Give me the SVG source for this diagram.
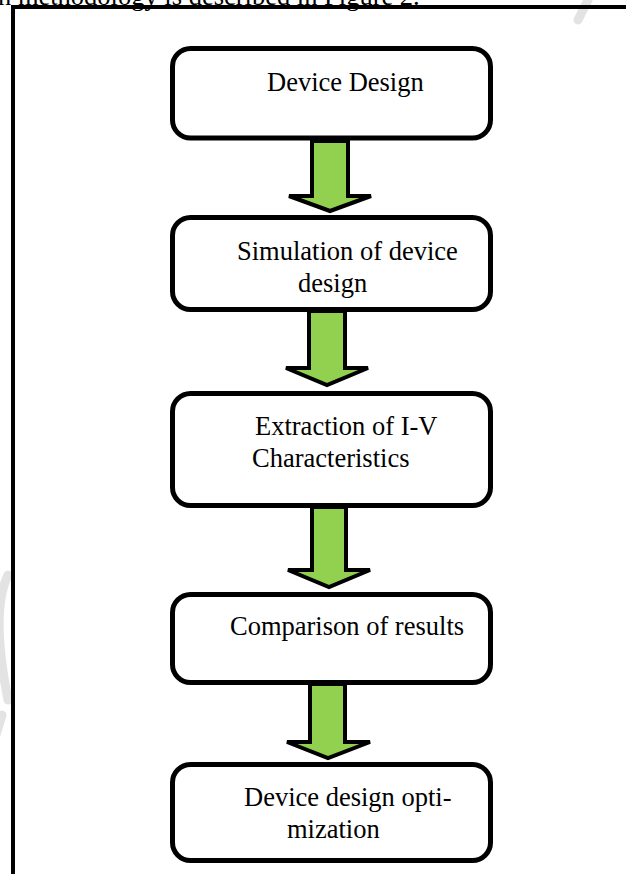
<svg xmlns="http://www.w3.org/2000/svg" width="626" height="874" viewBox="0 0 626 874">
  <style>
    .box { fill: #ffffff; stroke: #000000; stroke-width: 5; }
    .arrow { fill: #92d050; stroke: #000000; stroke-width: 4; stroke-linejoin: miter; }
    .label { font-family: "Liberation Serif", "Times New Roman", serif; font-size: 26.5px; fill: #000000; }
    .frame { stroke: #000000; stroke-width: 4; fill: none; }
    .mark { fill: none; stroke: #e3e3e3; stroke-width: 9; stroke-linecap: round; }
  </style>
  <rect width="626" height="874" fill="#ffffff"/>

  <!-- faint background marks -->
  <path class="mark" d="M 8 575 C -4 600, -4 640, 8 700 M 2 715 L -4 735"/>
  <path class="mark" d="M 588 0 L 578 20"/>

  <!-- running text above the frame -->
  <text class="label" x="-2" y="5">n methodology is described in Figure 2.</text>

  <!-- frame -->
  <path class="frame" d="M 13 874 L 13 7 L 626 7"/>

  <!-- connectors -->
  <g id="connectors">
    <polygon class="arrow" points="312,141 348,141 348,196 371,196 330,211 289,196 312,196"/>
    <polygon class="arrow" points="309,311 345,311 345,368 368,368 327,385 286,368 309,368"/>
    <polygon class="arrow" points="312,507 346,507 346,570 370,570 329,587 288,570 312,570"/>
    <polygon class="arrow" points="310,684 345,684 345,742 370,742 328,758 287,742 310,742"/>
  </g>

  <g id="node-device-design">
    <rect class="box" x="172.5" y="48.5" width="318" height="89.5" rx="18" ry="18"/>
    <text class="label" x="267" y="91">Device Design</text>
  </g>

  <g id="node-simulation">
    <rect class="box" x="172.5" y="217.5" width="318" height="92" rx="18" ry="18"/>
    <text class="label" x="237" y="260">Simulation of device</text>
    <text class="label" x="298" y="292">design</text>
  </g>

  <g id="node-extraction">
    <rect class="box" x="172.5" y="393.5" width="318" height="112" rx="18" ry="18"/>
    <text class="label" x="255" y="435">Extraction of I-V</text>
    <text class="label" x="252" y="467">Characteristics</text>
  </g>

  <g id="node-comparison">
    <rect class="box" x="172.5" y="594.5" width="318" height="88" rx="18" ry="18"/>
    <text class="label" x="230" y="635">Comparison of results</text>
  </g>

  <g id="node-optimization">
    <rect class="box" x="172.5" y="764.5" width="318" height="96" rx="18" ry="18"/>
    <text class="label" x="244" y="806">Device design opti-</text>
    <text class="label" x="287" y="838">mization</text>
  </g>
</svg>
